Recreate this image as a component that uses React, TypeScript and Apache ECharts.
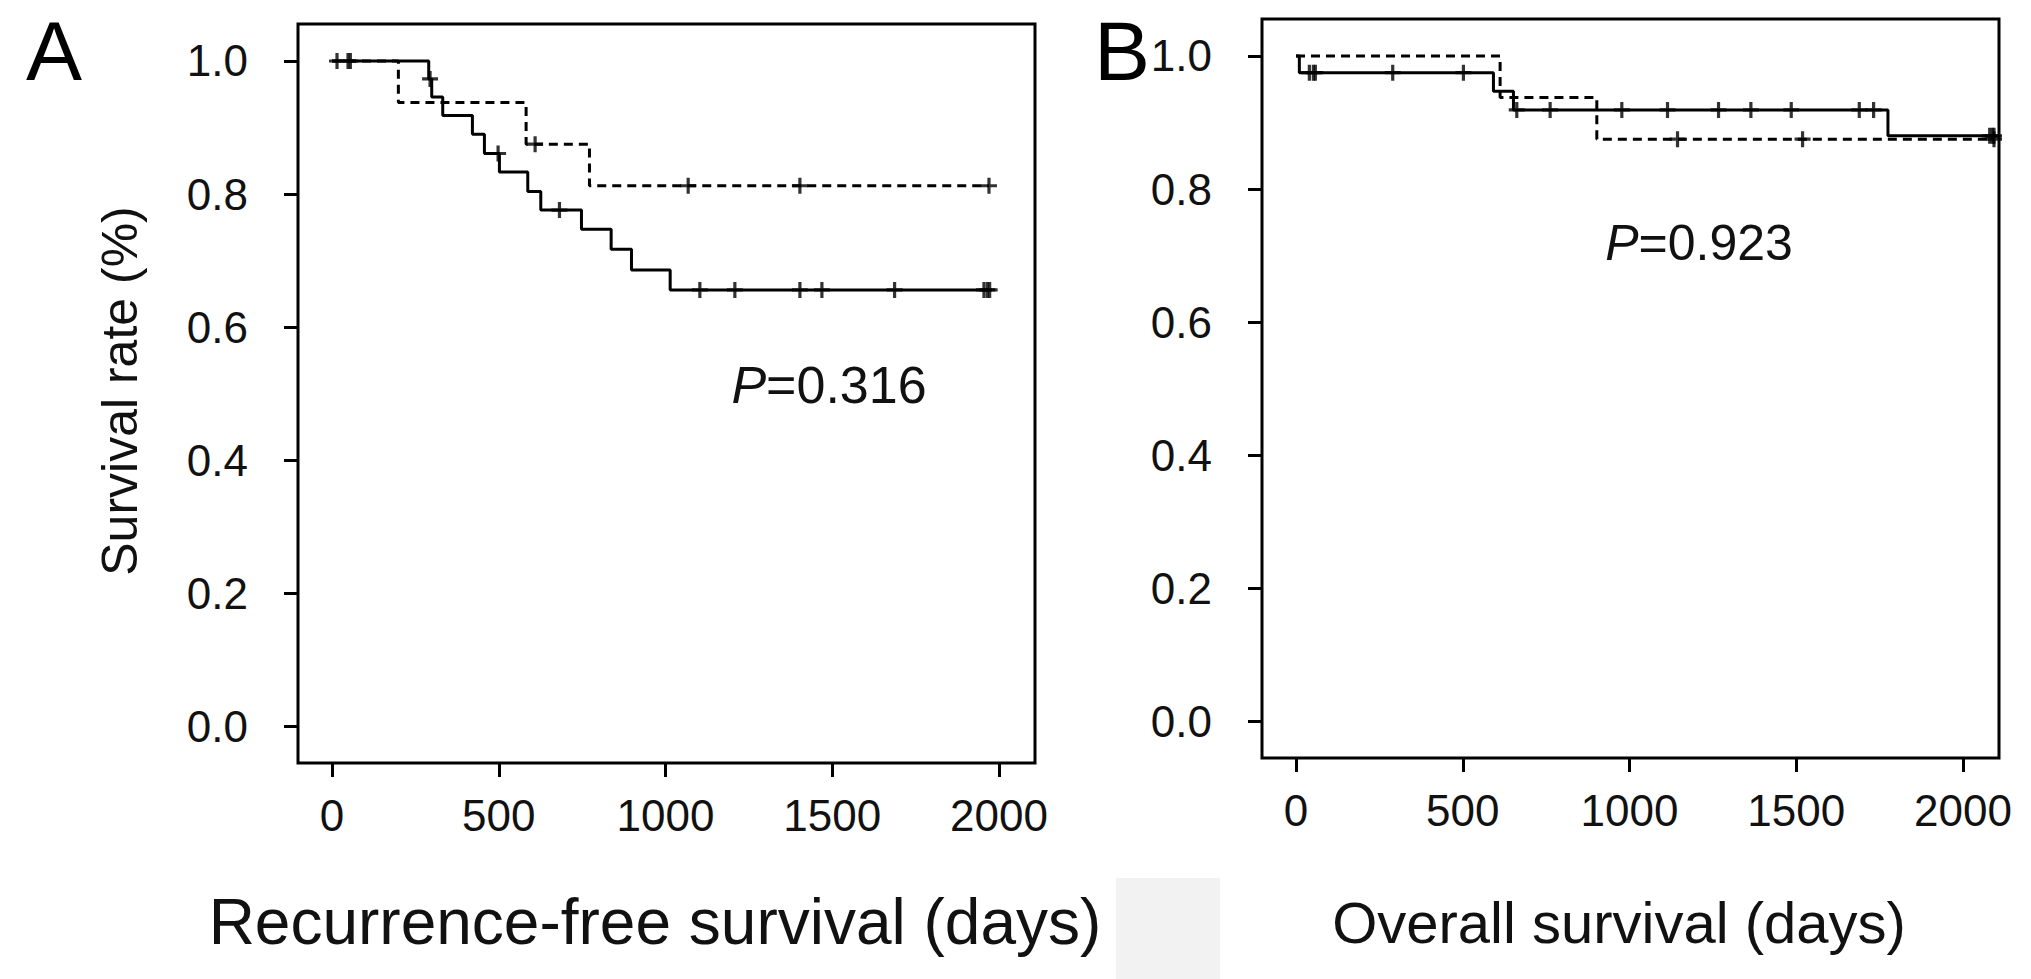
import React, { useEffect, useRef } from 'react';
import * as echarts from 'echarts';

const xTicks = [0, 500, 1000, 1500, 2000];
const yTicks = [0, 0.2, 0.4, 0.6, 0.8, 1.0];

// Panel A: recurrence-free survival (solid and dashed groups)
const rfsSolidEventDays = [290, 299, 332, 421, 457, 502, 587, 626, 748, 837, 898, 1014];
const rfsSolidEventSurv = [0.973, 0.946, 0.918, 0.89, 0.861, 0.833, 0.804, 0.776, 0.747, 0.717, 0.686, 0.656];
const rfsSolidCensorDays = [15, 48, 55, 294, 498, 682, 1103, 1208, 1403, 1469, 1687, 1955, 1965, 1972];
const rfsDashedEventDays = [199, 582, 772];
const rfsDashedEventSurv = [0.9375, 0.875, 0.8125];
const rfsDashedCensorDays = [609, 1068, 1403, 1970];

// Panel B: overall survival
const osSolidEventDays = [10, 592, 652, 1775];
const osSolidEventSurv = [0.975, 0.947, 0.919, 0.88];
const osSolidCensorDays = [40, 52, 58, 290, 502, 662, 762, 977, 1114, 1267, 1364, 1485, 1689, 1732, 2080, 2088, 2093];
const osDashedEventDays = [612, 902];
const osDashedEventSurv = [0.9375, 0.875];
const osDashedCensorDays = [1144, 1519, 2093];

const FONT = '"Liberation Sans", Arial, Helvetica, sans-serif';
const PLUS = 'path://M4,0 H6 V4 H10 V6 H6 V10 H4 V6 H0 V4 H4 Z';

function stepData(days: number[], surv: number[], censors: number[]) {
  const end = Math.max(...censors, ...days);
  const pts: number[][] = [[0, 1]];
  days.forEach((d, i) => pts.push([d, surv[i]]));
  pts.push([end, surv[surv.length - 1]]);
  return pts;
}
function survAt(days: number[], surv: number[], t: number) {
  let s = 1;
  days.forEach((d, i) => {
    if (d <= t) s = surv[i];
  });
  return s;
}
function censorData(days: number[], surv: number[], censors: number[]) {
  return censors.map((c) => [c, survAt(days, surv, c)]);
}

export default function App() {
  const ref = useRef<HTMLDivElement>(null);
  useEffect(() => {
    if (!ref.current) return;
    const chart = echarts.init(ref.current, undefined, { renderer: 'svg' });
    const xAxisBase = (gridIndex: number) => ({
      type: 'value',
      gridIndex,
      min: -102,
      max: 2108,
      axisLine: { show: false, onZero: false },
      splitLine: { show: false },
      axisTick: { show: true, inside: false, customValues: xTicks, length: 14, lineStyle: { color: '#000', width: 3 } },
      axisLabel: {
        customValues: xTicks,
        fontSize: 44,
        color: '#111',
        fontFamily: FONT,
        margin: 30,
        formatter: (v: number) => String(v),
      },
    });
    const yAxisBase = (gridIndex: number) => ({
      type: 'value',
      gridIndex,
      min: -0.055,
      max: 1.0556,
      axisLine: { show: false, onZero: false },
      splitLine: { show: false },
      axisTick: { show: true, inside: false, customValues: yTicks, length: 14, lineStyle: { color: '#000', width: 3 } },
      axisLabel: {
        customValues: yTicks,
        fontSize: 44,
        color: '#111',
        fontFamily: FONT,
        margin: 50,
        formatter: (v: number) => v.toFixed(1),
      },
    });
    const lineSeries = (idx: number, data: number[][], dashed: boolean) => ({
      type: 'line',
      xAxisIndex: idx,
      yAxisIndex: idx,
      data,
      step: 'end',
      symbol: 'none',
      silent: true,
      lineStyle: { color: '#000', width: 3, type: dashed ? [9, 6] : 'solid' },
    });
    const censorSeries = (idx: number, data: number[][]) => ({
      type: 'scatter',
      xAxisIndex: idx,
      yAxisIndex: idx,
      data,
      symbol: PLUS,
      symbolSize: 16,
      silent: true,
      itemStyle: { color: '#000' },
    });
    chart.setOption({
      animation: false,
      backgroundColor: '#fff',
      grid: [
        { left: 298, top: 24, width: 737, height: 739, show: true, borderColor: '#000', borderWidth: 3, backgroundColor: 'transparent' },
        { left: 1262, top: 19, width: 737, height: 739, show: true, borderColor: '#000', borderWidth: 3, backgroundColor: 'transparent' },
      ],
      xAxis: [xAxisBase(0), xAxisBase(1)],
      yAxis: [yAxisBase(0), yAxisBase(1)],
      series: [
        lineSeries(0, stepData(rfsDashedEventDays, rfsDashedEventSurv, rfsDashedCensorDays), true),
        lineSeries(0, stepData(rfsSolidEventDays, rfsSolidEventSurv, rfsSolidCensorDays), false),
        censorSeries(0, censorData(rfsDashedEventDays, rfsDashedEventSurv, rfsDashedCensorDays)),
        censorSeries(0, censorData(rfsSolidEventDays, rfsSolidEventSurv, rfsSolidCensorDays)),
        lineSeries(1, stepData(osDashedEventDays, osDashedEventSurv, osDashedCensorDays), true),
        lineSeries(1, stepData(osSolidEventDays, osSolidEventSurv, osSolidCensorDays), false),
        censorSeries(1, censorData(osDashedEventDays, osDashedEventSurv, osDashedCensorDays)),
        censorSeries(1, censorData(osSolidEventDays, osSolidEventSurv, osSolidCensorDays)),
      ],
      graphic: [
        { type: 'rect', shape: { x: 1116, y: 878, width: 104, height: 101 }, style: { fill: '#f2f2f2' }, silent: true },
        { type: 'text', x: 26, y: 51, style: { text: 'A', font: `84px ${FONT}`, fill: '#000', textAlign: 'left', textVerticalAlign: 'middle' } },
        { type: 'text', x: 1094, y: 51, style: { text: 'B', font: `84px ${FONT}`, fill: '#000', textAlign: 'left', textVerticalAlign: 'middle' } },
        {
          type: 'text', x: 120, y: 391, rotation: Math.PI / 2,
          style: { text: 'Survival rate (%)', font: `50px ${FONT}`, fill: '#111', textAlign: 'center', textVerticalAlign: 'middle' },
        },
        { type: 'text', x: 655, y: 922, style: { text: 'Recurrence-free survival (days)', font: `64px ${FONT}`, fill: '#111', textAlign: 'center', textVerticalAlign: 'middle' } },
        { type: 'text', x: 1619, y: 922, style: { text: 'Overall survival (days)', font: `58px ${FONT}`, fill: '#111', textAlign: 'center', textVerticalAlign: 'middle' } },
        {
          type: 'text', x: 829, y: 385,
          style: { text: '{i|P}=0.316', font: `52px ${FONT}`, fill: '#111', textAlign: 'center', textVerticalAlign: 'middle', rich: { i: { fontStyle: 'italic', fontSize: 52, fontFamily: FONT } } },
        },
        {
          type: 'text', x: 1699, y: 243,
          style: { text: '{i|P}=0.923', font: `50px ${FONT}`, fill: '#111', textAlign: 'center', textVerticalAlign: 'middle', rich: { i: { fontStyle: 'italic', fontSize: 50, fontFamily: FONT } } },
        },
      ],
    });
    return () => chart.dispose();
  }, []);
  return <div ref={ref} style={{ position: 'fixed', left: 0, top: 0, width: 2031, height: 979 }} />;
}
